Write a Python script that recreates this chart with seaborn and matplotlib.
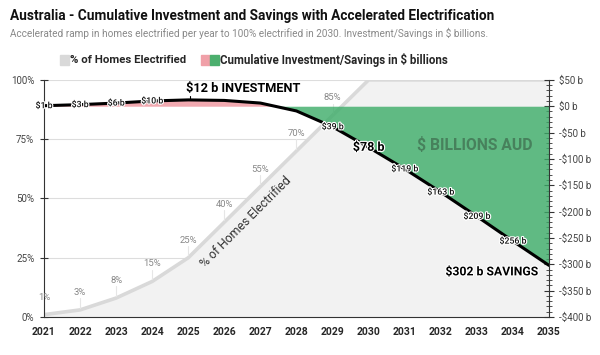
import matplotlib
matplotlib.use("Agg")
import matplotlib.pyplot as plt
import matplotlib.patheffects as pe
from matplotlib.patches import Rectangle
from matplotlib.ticker import MultipleLocator
import seaborn as sns
import pandas as pd
import numpy as np

years = list(range(2021, 2036))
pct_homes = [1, 3, 8, 15, 25, 40, 55, 70, 85, 100, 100, 100, 100, 100, 100]
pct_labels = ["1%", "3%", "8%", "15%", "25%", "40%", "55%", "70%", "85%"]
cum_invest = [1, 3, 6, 10, 12, 11, 6, -9, -39, -78, -119, -163, -209, -256, -302]
invest_labels = {2021: "$1 b", 2022: "$3 b", 2023: "$6 b", 2024: "$10 b",
                 2029: "$39 b", 2031: "$119 b", 2032: "$163 b", 2033: "$209 b",
                 2034: "$256 b"}

df = pd.DataFrame({"year": years, "pct": pct_homes, "cum": cum_invest})

sns.set_style("white")
plt.rcParams["font.family"] = ["Roboto", "DejaVu Sans"]

fig = plt.figure(figsize=(6, 3.55), dpi=100)
ax = fig.add_axes([0.0733, 0.107, 0.8417, 0.668])
ax2 = ax.twinx()

# homes electrified (left axis)
ax.fill_between(df["year"], 0, df["pct"], color="#f2f2f2", zorder=1)
sns.lineplot(data=df, x="year", y="pct", ax=ax, color="#d9d9d9", lw=2.6, zorder=2)
for yr, v, lab in zip(years, pct_homes, pct_labels):
    ax.plot([yr, yr], [v + 1, v + 5], color="#e6e6e6", lw=0.8, zorder=2)
    ax.text(yr, v + 5.5, lab, ha="center", va="bottom", fontsize=6.8, color="#888888", zorder=3)
ax.text(2026.6, 40, "% of Homes Electrified", rotation=45, rotation_mode="anchor",
        ha="center", va="center", fontsize=8.8, color="#333333", zorder=3)

for g in [25, 50, 75, 100]:
    ax.axhline(g, color="#dddddd", lw=0.8, zorder=0.5)

ax.set_xlim(2021, 2035)
ax.set_ylim(0, 100)
ax.set_yticks([0, 25, 50, 75, 100])
ax.set_yticklabels(["0%", "25%", "50%", "75%", "100%"], fontsize=7, color="#444444")
ax.set_xticks(years)
ax.set_xticklabels([str(y) for y in years], fontsize=7.5, fontweight="bold")
ax.tick_params(axis="both", direction="inout", length=6, width=0.8, color="#333333", pad=4)
ax.set_xlabel("")
ax.set_ylabel("")
for s in ["top", "right"]:
    ax.spines[s].set_visible(False)
ax.spines["left"].set_color("#333333")
ax.spines["bottom"].set_color("#333333")

# cumulative investment / savings (right axis)
yr_a = np.array(years, dtype=float)
cum_a = np.array(cum_invest, dtype=float)
ax2.fill_between(yr_a, 0, cum_a, where=cum_a >= 0, interpolate=True, color="#f0a0a8", alpha=0.9, lw=0, zorder=1)
ax2.fill_between(yr_a, 0, cum_a, where=cum_a <= 0, interpolate=True, color="#3cac68", alpha=0.8, lw=0, zorder=1)
sns.lineplot(data=df, x="year", y="cum", ax=ax2, color="black", lw=2.2, zorder=3)

halo = [pe.withStroke(linewidth=1.6, foreground="white")]
for yr, lab in invest_labels.items():
    v = cum_invest[years.index(yr)]
    ax2.text(yr, v, lab, ha="center", va="center", fontsize=6.3, fontweight="medium",
             color="#111111", path_effects=halo, zorder=4)
ax2.text(2030, cum_invest[years.index(2030)], "$78 b", ha="center", va="center", fontsize=9,
         fontweight="bold", color="black", path_effects=halo, zorder=4)
ax2.plot([2025.05, 2025.05], [14, 20], color="black", lw=0.8, zorder=4)
ax2.text(2024.95, 21, "$12 b INVESTMENT", ha="left", va="bottom", fontsize=9.2,
         fontweight="bold", color="black", zorder=4)
ax2.text(2034.7, -302, "$302 b SAVINGS", ha="right", va="top", fontsize=8.8,
         fontweight="bold", color="black", path_effects=halo, zorder=4)
ax2.text(2032.95, -74, "$ BILLIONS AUD", ha="center", va="center", fontsize=11.3,
         fontweight="bold", color="#3f6e50", alpha=0.75, zorder=2)

ax2.set_ylim(-400, 50)
ax2.set_xlim(2021, 2035)
ticks = list(range(-400, 51, 50))
ax2.set_yticks(ticks)
ax2.set_yticklabels([("-$%d b" % -t) if t < 0 else ("$%d b" % t) for t in ticks],
                    fontsize=7, color="#444444")
ax2.yaxis.set_minor_locator(MultipleLocator(10))
ax2.tick_params(axis="y", which="major", direction="inout", length=7, width=0.8, color="#333333", pad=4)
ax2.tick_params(axis="y", which="minor", direction="inout", length=4, width=0.6, color="#333333")
ax2.set_ylabel("")
for s in ["top", "left", "bottom"]:
    ax2.spines[s].set_visible(False)
ax2.spines["right"].set_color("#333333")

# title, subtitle, legend
fig.text(0.017, 0.955, "Australia - Cumulative Investment and Savings with Accelerated Electrification",
         fontsize=9.8, fontweight="bold", color="#111111", ha="left", va="center")
fig.text(0.017, 0.907, "Accelerated ramp in homes electrified per year to 100% electrified in 2030. Investment/Savings in $ billions.",
         fontsize=7.2, color="#888888", ha="left", va="center")

ly = 1 - 60 / 355
sq = 9 / 600
sqh = 10 / 355
fig.add_artist(Rectangle((60 / 600, ly - sqh / 2), sq, sqh, color="#d9d9d9", transform=fig.transFigure))
fig.text(70 / 600, ly, "% of Homes Electrified", fontsize=8.2, fontweight="bold", ha="left", va="center")
fig.add_artist(Rectangle((201 / 600, ly - sqh / 2), sq, sqh, color="#f0a0a8", transform=fig.transFigure))
fig.add_artist(Rectangle((210 / 600, ly - sqh / 2), sq, sqh, color="#4caf6e", transform=fig.transFigure))
fig.text(220 / 600, ly, "Cumulative Investment/Savings in $ billions", fontsize=8.3, fontweight="bold",
         ha="left", va="center")

fig.savefig("out.png", dpi=100)
